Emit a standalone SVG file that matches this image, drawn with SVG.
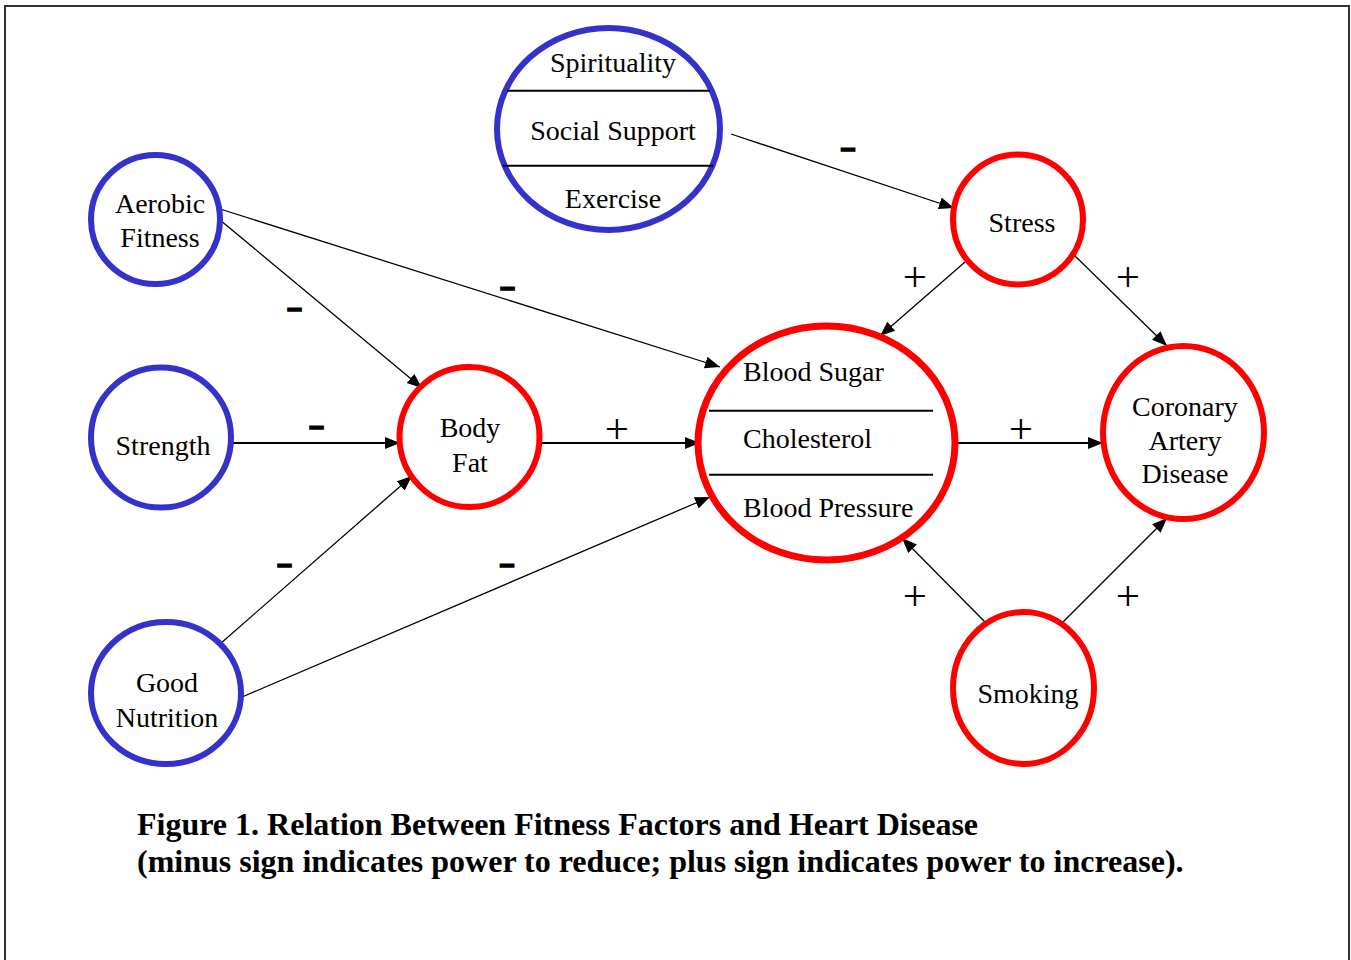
<svg xmlns="http://www.w3.org/2000/svg" width="1351" height="960" viewBox="0 0 1351 960">
<style>
.bg{fill:#ffffff}
.frame{fill:none;stroke:#333333;stroke-width:2}
.blue{fill:#ffffff;stroke:#3333CC;stroke-width:6}
.red{fill:#ffffff;stroke:#FF0000;stroke-width:6}
.redbig{fill:#ffffff;stroke:#FF0000;stroke-width:7}
.div{stroke:#000000;stroke-width:2}
.lbl{font-family:"Liberation Serif","Times New Roman",serif;font-size:28px;fill:#000000}
.mid{text-anchor:middle}
.edge{fill:none;stroke:#000000;stroke-width:1.3;marker-end:url(#ah)}
.edgeh{fill:none;stroke:#000000;stroke-width:2;marker-end:url(#ah)}
.plus{font-family:"Liberation Serif","Times New Roman",serif;font-size:43px;fill:#000000;text-anchor:middle}
.minus{font-family:"Liberation Sans",Arial,sans-serif;font-weight:bold;font-size:27px;fill:#000000;stroke:#000000;stroke-width:1.4;text-anchor:middle}
.cap{font-family:"Liberation Serif","Times New Roman",serif;font-weight:bold;font-size:32px;fill:#000000}
</style>
<defs>
<marker id="ah" markerUnits="userSpaceOnUse" markerWidth="17" markerHeight="14" refX="15" refY="6.5" orient="auto">
<path d="M0,0.5 L15,6.5 L0,12.5 z" fill="#000000"/>
</marker>
</defs>
<rect class="bg" x="0" y="0" width="1351" height="960"/>
<rect class="frame" x="5" y="6" width="1344" height="1100"/>

<g id="connectors">
<line class="edge" x1="731" y1="134" x2="954" y2="208"/>
<line class="edge" x1="220" y1="209" x2="720" y2="367"/>
<line class="edge" x1="220" y1="220" x2="422" y2="388"/>
<line class="edgeh" x1="230" y1="443" x2="400" y2="443"/>
<line class="edge" x1="220" y1="644" x2="412" y2="476"/>
<line class="edge" x1="242" y1="697" x2="710" y2="497"/>
<line class="edgeh" x1="537" y1="443" x2="700" y2="443"/>
<line class="edge" x1="965" y1="262" x2="880" y2="336"/>
<line class="edge" x1="1072" y1="253" x2="1167" y2="346"/>
<line class="edgeh" x1="943" y1="443" x2="1103" y2="443"/>
<line class="edge" x1="986" y1="623" x2="902" y2="538"/>
<line class="edge" x1="1062" y1="623" x2="1167" y2="518"/>
<text class="minus" x="848" y="157">–</text>
<text class="minus" x="507.5" y="296">–</text>
<text class="minus" x="294.5" y="317">–</text>
<text class="minus" x="316.5" y="435">–</text>
<text class="minus" x="284.5" y="573">–</text>
<text class="minus" x="507" y="573">–</text>
<text class="plus" x="617" y="443">+</text>
<text class="plus" x="915" y="291">+</text>
<text class="plus" x="1128" y="291">+</text>
<text class="plus" x="1021" y="443">+</text>
<text class="plus" x="915" y="610">+</text>
<text class="plus" x="1128" y="610">+</text>
</g>

<g id="node-spirituality">
<ellipse class="blue" cx="608.5" cy="129" rx="111.5" ry="101"/>
<line class="div" x1="507" y1="90.7" x2="710" y2="90.7"/>
<line class="div" x1="503" y1="165.7" x2="713" y2="165.7"/>
<text class="lbl mid" x="613" y="72">Spirituality</text>
<text class="lbl mid" x="613" y="140">Social Support</text>
<text class="lbl mid" x="613" y="208">Exercise</text>
</g>

<g id="node-aerobic">
<circle class="blue" cx="155.5" cy="219.5" r="64.5"/>
<text class="lbl mid" x="160" y="213">Aerobic</text>
<text class="lbl mid" x="160" y="247">Fitness</text>
</g>

<g id="node-strength">
<circle class="blue" cx="161" cy="437.5" r="70"/>
<text class="lbl mid" x="163" y="455">Strength</text>
</g>

<g id="node-nutrition">
<ellipse class="blue" cx="166" cy="693" rx="75" ry="71"/>
<text class="lbl mid" x="167" y="692">Good</text>
<text class="lbl mid" x="167" y="727">Nutrition</text>
</g>

<g id="node-bodyfat">
<circle class="red" cx="469.5" cy="437" r="70"/>
<text class="lbl mid" x="470" y="437">Body</text>
<text class="lbl mid" x="470" y="472">Fat</text>
</g>

<g id="node-blood">
<ellipse class="redbig" cx="826.5" cy="443" rx="128.5" ry="117"/>
<line class="div" x1="709" y1="410.7" x2="933" y2="410.7"/>
<line class="div" x1="709" y1="474.7" x2="933" y2="474.7"/>
<text class="lbl" x="743" y="381">Blood Sugar</text>
<text class="lbl" x="743" y="448">Cholesterol</text>
<text class="lbl" x="743" y="517">Blood Pressure</text>
</g>

<g id="node-stress">
<circle class="red" cx="1018" cy="219.5" r="65"/>
<text class="lbl mid" x="1022" y="232">Stress</text>
</g>

<g id="node-cad">
<ellipse class="red" cx="1183.5" cy="432.5" rx="80.5" ry="86.5"/>
<text class="lbl mid" x="1185" y="416">Coronary</text>
<text class="lbl mid" x="1185" y="450">Artery</text>
<text class="lbl mid" x="1185" y="483">Disease</text>
</g>

<g id="node-smoking">
<ellipse class="red" cx="1023.5" cy="688" rx="70.5" ry="76"/>
<text class="lbl mid" x="1028" y="703">Smoking</text>
</g>

<g id="caption">
<text class="cap" x="137" y="835">Figure 1. Relation Between Fitness Factors and Heart Disease</text>
<text class="cap" x="137" y="872">(minus sign indicates power to reduce; plus sign indicates power to increase).</text>
</g>
</svg>
